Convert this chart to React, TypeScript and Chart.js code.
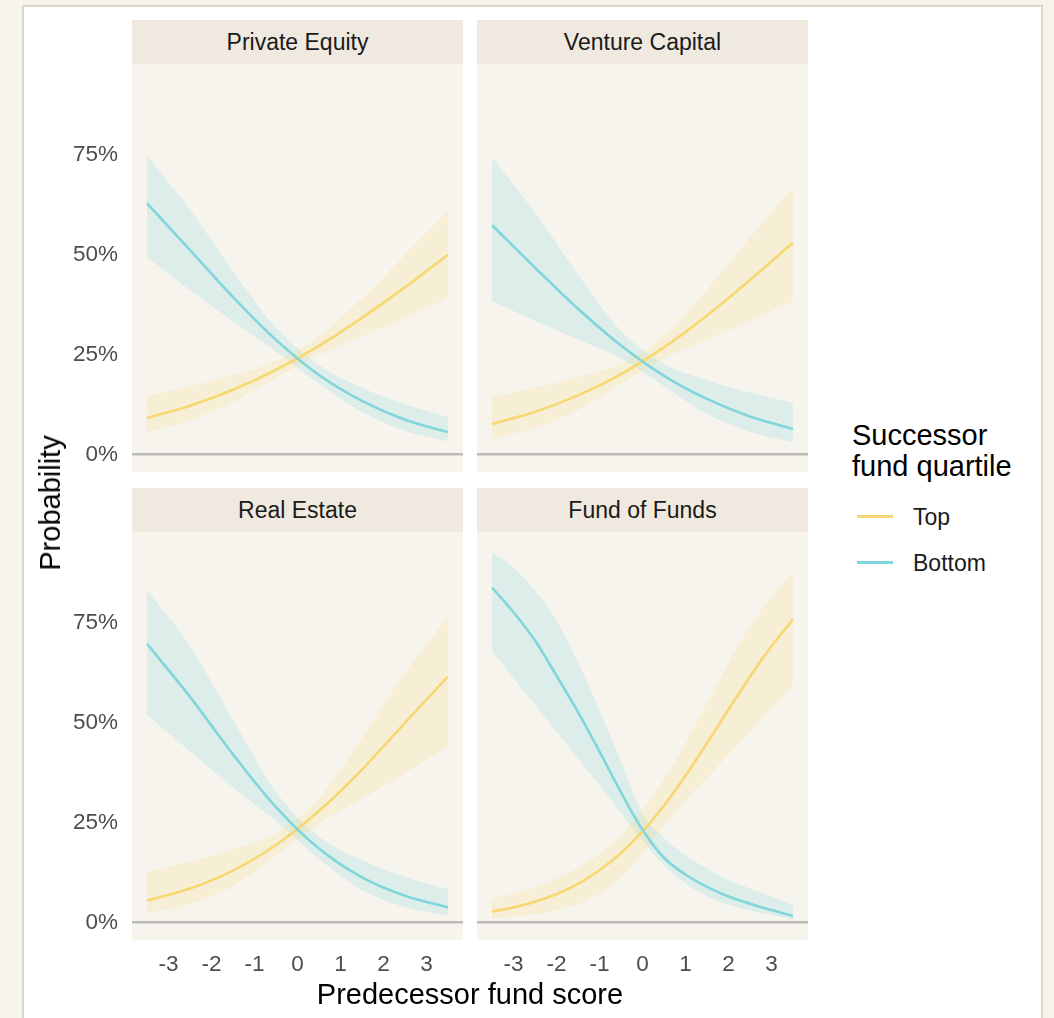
import React, { useEffect, useRef } from "react";
import { Chart, registerables } from "chart.js";

Chart.register(...registerables);

// ---------- data ----------
const X_COARSE = [-3.5, -2.5, -1.5, -0.5, 0.5, 1.5, 2.5, 3.5];
const X_FINE = [-3.5, -3, -2.5, -2, -1.5, -1, -0.5, 0, 0.5, 1, 1.5, 2, 2.5, 3, 3.5];
const X_TICKS = [-3, -2, -1, 0, 1, 2, 3];
const Y_TICKS = [0, 0.25, 0.5, 0.75];
const FACETS = ["Private Equity", "Venture Capital", "Real Estate", "Fund of Funds"];
const SERIES = ["Top", "Bottom"];
const LEGEND_TITLE = ["Successor", "fund quartile"];
const X_TITLE = "Predecessor fund score";
const Y_TITLE = "Probability";

// Private Equity (x = X_COARSE)
const PE_TOP = [0.091, 0.122, 0.162, 0.212, 0.272, 0.342, 0.419, 0.5];
const PE_TOP_LO = [0.055, 0.086, 0.131, 0.192, 0.249, 0.296, 0.342, 0.392];
const PE_TOP_HI = [0.147, 0.171, 0.199, 0.234, 0.296, 0.391, 0.5, 0.61];
const PE_BOT = [0.629, 0.512, 0.394, 0.287, 0.199, 0.134, 0.087, 0.056];
const PE_BOT_LO = [0.493, 0.411, 0.333, 0.258, 0.177, 0.106, 0.059, 0.033];
const PE_BOT_HI = [0.748, 0.613, 0.459, 0.318, 0.224, 0.167, 0.126, 0.094];

// Venture Capital (x = X_COARSE)
const VC_TOP = [0.076, 0.107, 0.148, 0.201, 0.268, 0.348, 0.437, 0.53];
const VC_TOP_LO = [0.039, 0.066, 0.111, 0.177, 0.24, 0.288, 0.335, 0.384];
const VC_TOP_HI = [0.144, 0.167, 0.194, 0.228, 0.298, 0.413, 0.544, 0.67];
const VC_BOT = [0.574, 0.468, 0.365, 0.273, 0.197, 0.139, 0.095, 0.064];
const VC_BOT_LO = [0.384, 0.335, 0.288, 0.24, 0.171, 0.101, 0.057, 0.031];
const VC_BOT_HI = [0.744, 0.606, 0.451, 0.31, 0.227, 0.186, 0.155, 0.129];

// Real Estate (x = X_COARSE)
const RE_TOP = [0.055, 0.085, 0.13, 0.194, 0.279, 0.383, 0.5, 0.616];
const RE_TOP_LO = [0.023, 0.046, 0.091, 0.168, 0.248, 0.31, 0.374, 0.441];
const RE_TOP_HI = [0.127, 0.153, 0.184, 0.224, 0.312, 0.462, 0.626, 0.766];
const RE_BOT = [0.698, 0.565, 0.421, 0.289, 0.185, 0.113, 0.067, 0.038];
const RE_BOT_LO = [0.52, 0.428, 0.338, 0.254, 0.159, 0.081, 0.038, 0.017];
const RE_BOT_HI = [0.832, 0.692, 0.507, 0.327, 0.215, 0.156, 0.114, 0.083];

// Fund of Funds (x = X_FINE)
const FOF_TOP = [0.027, 0.0375, 0.0517, 0.071, 0.0968, 0.1307, 0.1741, 0.2281, 0.2931, 0.3675, 0.4489, 0.5332, 0.6156, 0.6919, 0.759];
const FOF_TOP_LO = [0.0105, 0.0147, 0.0207, 0.0303, 0.0463, 0.0721, 0.1135, 0.1729, 0.2414, 0.3047, 0.3624, 0.4195, 0.4775, 0.5362, 0.5941];
const FOF_TOP_HI = [0.06, 0.073, 0.089, 0.11, 0.137, 0.172, 0.219, 0.281, 0.359, 0.45, 0.55, 0.65, 0.741, 0.816, 0.875];
const FOF_BOT = [0.839, 0.777, 0.706, 0.618, 0.527, 0.428, 0.326, 0.232, 0.162, 0.12, 0.089, 0.065, 0.047, 0.031, 0.016];
const FOF_BOT_LO = [0.68, 0.611, 0.545, 0.478, 0.41, 0.343, 0.275, 0.205, 0.144, 0.098, 0.065, 0.044, 0.03, 0.019, 0.006];
const FOF_BOT_HI = [0.927, 0.889, 0.831, 0.756, 0.652, 0.531, 0.403, 0.272, 0.212, 0.168, 0.135, 0.106, 0.085, 0.065, 0.044];

const PANEL_DATA = [
  { title: FACETS[0], xs: X_COARSE, top: [PE_TOP, PE_TOP_LO, PE_TOP_HI], bottom: [PE_BOT, PE_BOT_LO, PE_BOT_HI] },
  { title: FACETS[1], xs: X_COARSE, top: [VC_TOP, VC_TOP_LO, VC_TOP_HI], bottom: [VC_BOT, VC_BOT_LO, VC_BOT_HI] },
  { title: FACETS[2], xs: X_COARSE, top: [RE_TOP, RE_TOP_LO, RE_TOP_HI], bottom: [RE_BOT, RE_BOT_LO, RE_BOT_HI] },
  { title: FACETS[3], xs: X_FINE, top: [FOF_TOP, FOF_TOP_LO, FOF_TOP_HI], bottom: [FOF_BOT, FOF_BOT_LO, FOF_BOT_HI] },
];

// ---------- style ----------
const FONT = "'Liberation Sans', Arial, Helvetica, sans-serif";
const OUTER_BG = "#f7f4ec";
const BOX_BORDER = "#d9d6cd";
const PANEL_BG = "#f7f4ed";
const STRIP_BG = "#f0e9df";
const YELLOW = "#f7d870";
const TEAL = "#80d6db";
const YELLOW_FILL = "rgba(247,216,112,0.19)";
const TEAL_FILL = "rgba(128,214,219,0.21)";
const ZERO_LINE = "#bdbbb7";
const TICK_COLOR = "#4d4d4d";
const STRIP_TEXT = "#1a1a1a";

const X_MIN = -3.85;
const X_MAX = 3.85;
const Y_MIN = -0.044;
const Y_MAX = 0.978;

const PANEL_W = 331;
const PANEL_H = 408;
const STRIP_H = 44;
const Y_AXIS_W = 80;
const X_AXIS_H = 50;
const COL_LEFT = [132, 477];
const ROW_TOP = [64, 532];

const panelBgPlugin = {
  id: "panelBg",
  beforeDraw(chart: any) {
    const { ctx, chartArea } = chart;
    ctx.save();
    ctx.fillStyle = PANEL_BG;
    ctx.fillRect(chartArea.left, chartArea.top, chartArea.right - chartArea.left, chartArea.bottom - chartArea.top);
    ctx.restore();
  },
};

function Panel({ index }: { index: number }) {
  const ref = useRef<HTMLCanvasElement | null>(null);
  const col = index % 2;
  const row = Math.floor(index / 2);
  const showY = col === 0;
  const showX = row === 1;
  const panelLeft = COL_LEFT[col];
  const panelTop = ROW_TOP[row];
  const w = PANEL_W + (showY ? Y_AXIS_W : 0);
  const h = PANEL_H + (showX ? X_AXIS_H : 0);

  useEffect(() => {
    const d = PANEL_DATA[index];
    const pts = (arr: number[]) => arr.map((y, i) => ({ x: d.xs[i], y }));
    const band = {
      borderWidth: 0,
      borderColor: "rgba(0,0,0,0)",
      pointRadius: 0,
      cubicInterpolationMode: "monotone" as const,
    };
    const chart = new Chart(ref.current as HTMLCanvasElement, {
      type: "line",
      data: {
        datasets: [
          {
            label: SERIES[1],
            data: pts(d.bottom[0]),
            borderColor: TEAL,
            borderWidth: 2.6,
            pointRadius: 0,
            fill: false,
            cubicInterpolationMode: "monotone",
          },
          {
            label: SERIES[0],
            data: pts(d.top[0]),
            borderColor: YELLOW,
            borderWidth: 2.6,
            pointRadius: 0,
            fill: false,
            cubicInterpolationMode: "monotone",
          },
          { ...band, label: "top-lo", data: pts(d.top[1]), fill: false },
          { ...band, label: "top-hi", data: pts(d.top[2]), fill: "-1", backgroundColor: YELLOW_FILL },
          { ...band, label: "bot-lo", data: pts(d.bottom[1]), fill: false },
          { ...band, label: "bot-hi", data: pts(d.bottom[2]), fill: "-1", backgroundColor: TEAL_FILL },
        ],
      },
      options: {
        responsive: false,
        animation: false,
        layout: { padding: 0 },
        plugins: { legend: { display: false }, tooltip: { enabled: false } },
        scales: {
          x: {
            type: "linear",
            min: X_MIN,
            max: X_MAX,
            display: showX,
            grid: { display: false, drawTicks: false },
            border: { display: false },
            afterBuildTicks: (scale: any) => {
              scale.ticks = X_TICKS.map((v) => ({ value: v }));
            },
            afterFit: (scale: any) => {
              scale.height = showX ? X_AXIS_H : 0;
              scale.paddingLeft = 0;
              scale.paddingRight = 0;
              scale.paddingTop = 0;
              scale.paddingBottom = 0;
            },
            ticks: {
              color: TICK_COLOR,
              font: { family: FONT, size: 22.5 },
              padding: 11,
              maxRotation: 0,
              callback: (v: any) => String(v),
            },
          },
          y: {
            type: "linear",
            min: Y_MIN,
            max: Y_MAX,
            display: true,
            grid: {
              display: true,
              drawTicks: false,
              color: (ctx: any) => (ctx.tick && ctx.tick.value === 0 ? ZERO_LINE : "rgba(0,0,0,0)"),
              lineWidth: 2.6,
            },
            border: { display: false },
            afterBuildTicks: (scale: any) => {
              scale.ticks = Y_TICKS.map((v) => ({ value: v }));
            },
            afterFit: (scale: any) => {
              scale.width = showY ? Y_AXIS_W : 0;
              scale.paddingLeft = 0;
              scale.paddingRight = 0;
              scale.paddingTop = 0;
              scale.paddingBottom = 0;
            },
            ticks: {
              display: showY,
              color: TICK_COLOR,
              font: { family: FONT, size: 22.5 },
              padding: 14,
              callback: (v: any) => `${Math.round(Number(v) * 100)}%`,
            },
          },
        },
      },
      plugins: [panelBgPlugin],
    } as any);
    return () => chart.destroy();
  }, [index]);

  return (
    <>
      <div
        style={{
          position: "absolute",
          left: panelLeft,
          top: panelTop - STRIP_H,
          width: PANEL_W,
          height: STRIP_H,
          background: STRIP_BG,
          color: STRIP_TEXT,
          fontFamily: FONT,
          fontSize: 23,
          lineHeight: `${STRIP_H}px`,
          textAlign: "center",
        }}
      >
        {PANEL_DATA[index].title}
      </div>
      <canvas
        ref={ref}
        width={w}
        height={h}
        style={{
          position: "absolute",
          left: panelLeft - (showY ? Y_AXIS_W : 0),
          top: panelTop,
          width: w,
          height: h,
        }}
      />
    </>
  );
}

export default function App() {
  return (
    <div
      style={{
        position: "absolute",
        left: 0,
        top: 0,
        width: 1054,
        height: 1018,
        overflow: "hidden",
        background: OUTER_BG,
        fontFamily: FONT,
      }}
    >
      <div
        style={{
          position: "absolute",
          left: 22,
          top: 5,
          width: 1021,
          height: 1100,
          background: "#ffffff",
          border: `2px solid ${BOX_BORDER}`,
          boxSizing: "border-box",
        }}
      />
      {[0, 1, 2, 3].map((i) => (
        <Panel key={i} index={i} />
      ))}
      {/* Y axis title */}
      <div
        style={{
          position: "absolute",
          left: 50,
          top: 503,
          transform: "translate(-50%, -50%) rotate(-90deg)",
          fontSize: 29,
          color: "#000",
          whiteSpace: "nowrap",
          lineHeight: "34px",
        }}
      >
        {Y_TITLE}
      </div>
      {/* X axis title */}
      <div
        style={{
          position: "absolute",
          left: 470,
          top: 994,
          transform: "translate(-50%, -50%)",
          fontSize: 29,
          color: "#000",
          whiteSpace: "nowrap",
          lineHeight: "34px",
        }}
      >
        {X_TITLE}
      </div>
      {/* Legend */}
      <div
        style={{
          position: "absolute",
          left: 852,
          top: 420,
          fontSize: 29,
          lineHeight: "31px",
          color: "#000",
          whiteSpace: "nowrap",
        }}
      >
        {LEGEND_TITLE[0]}
        <br />
        {LEGEND_TITLE[1]}
      </div>
      {SERIES.map((s, i) => (
        <React.Fragment key={s}>
          <div
            style={{
              position: "absolute",
              left: 857,
              top: 516 + i * 46 - 1.5,
              width: 36,
              height: 3,
              background: i === 0 ? YELLOW : TEAL,
            }}
          />
          <div
            style={{
              position: "absolute",
              left: 913,
              top: 517 + i * 46 - 14,
              fontSize: 23,
              lineHeight: "28px",
              color: "#1a1a1a",
              whiteSpace: "nowrap",
            }}
          >
            {s}
          </div>
        </React.Fragment>
      ))}
    </div>
  );
}
